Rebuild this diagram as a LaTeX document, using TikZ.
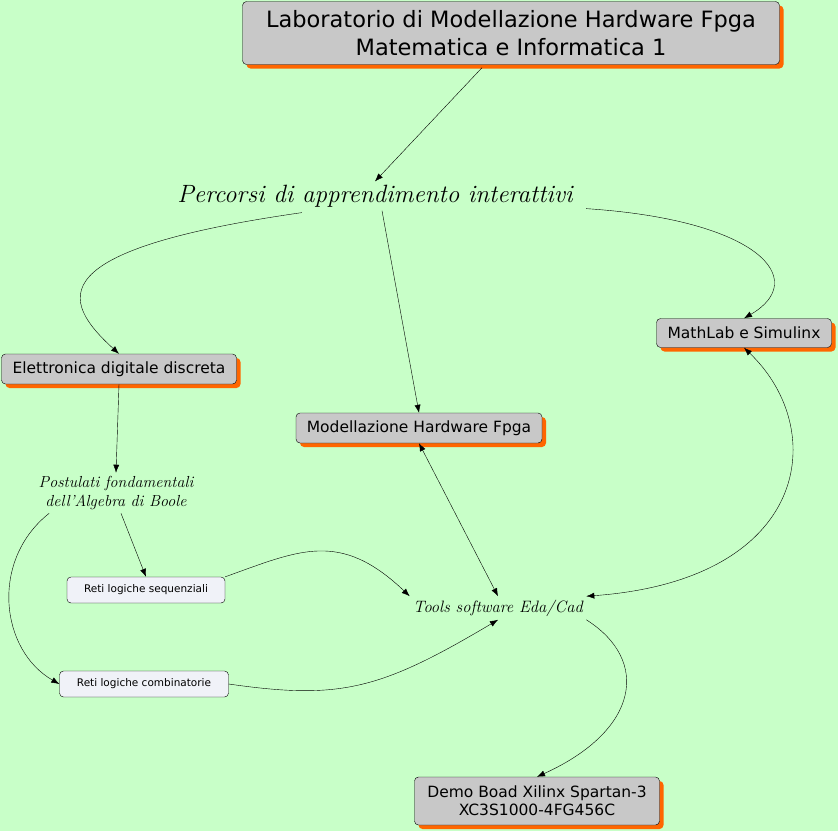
\documentclass[tikz,border=0pt]{standalone}
\usepackage{fontspec}
\newfontfamily\boxfont{DejaVu Sans}
\usetikzlibrary{arrows.meta, shadows}
\definecolor{bgreen}{RGB}{200,255,200}
\definecolor{boxgray}{RGB}{200,200,200}
\definecolor{shadeor}{RGB}{255,102,0}
\definecolor{paleb}{RGB}{240,242,248}
\tikzset{
  bigbox/.style = {draw, rounded corners=4pt, fill=boxgray, font=\boxfont,
    drop shadow={shadow xshift=4pt, shadow yshift=-4pt, fill=shadeor, opacity=1},
    align=center, inner sep=4pt},
  smallbox/.style = {draw, rounded corners=4pt, fill=paleb, font=\boxfont\fontsize{10.5}{12}\selectfont,
    inner sep=5pt},
  topic/.style = {font=\itshape, align=center},
  link/.style = {-{Latex[length=8pt,width=6pt]}},
}
\begin{document}
\begin{tikzpicture}[x=1pt, y=-1pt]
\useasboundingbox[fill=bgreen] (0,0) rectangle (838,831);
% boxes
\node[bigbox, minimum width=537pt, minimum height=63pt, font=\boxfont\fontsize{22.5}{28}\selectfont] (lab) at (511,33)
  {Laboratorio di Modellazione Hardware Fpga\\Matematica e Informatica 1};
\node[topic, font=\itshape\fontsize{25}{30}\selectfont] (perc) at (375,196) {Percorsi di apprendimento interattivi};
\node[bigbox, minimum width=235pt, minimum height=30pt, font=\boxfont\fontsize{15.5}{18}\selectfont] (elet) at (119,369) {Elettronica digitale discreta};
\node[bigbox, minimum width=175pt, minimum height=29pt, font=\boxfont\fontsize{15.5}{18}\selectfont] (math) at (744,333) {MathLab e Simulinx};
\node[bigbox, minimum width=246pt, minimum height=30pt, font=\boxfont\fontsize{15.5}{18}\selectfont] (mod) at (419,428) {Modellazione Hardware Fpga};
\node[topic, font=\itshape\fontsize{16}{19}\selectfont] (post) at (116,493) {Postulati fondamentali\\ dell'Algebra di Boole};
\node[smallbox, minimum width=158pt, minimum height=26pt] (seq) at (146,590) {Reti logiche sequenziali};
\node[smallbox, minimum width=169pt, minimum height=26pt] (comb) at (144,684) {Reti logiche combinatorie};
\node[topic, font=\itshape\fontsize{16.5}{20}\selectfont] (tools) at (498,608) {Tools software Eda/Cad};
\node[bigbox, minimum width=245pt, minimum height=48pt, font=\boxfont\fontsize{15.5}{18}\selectfont] (demo) at (537,801)
  {Demo Boad Xilinx Spartan-3\\XC3S1000-4FG456C};
% connectors
\draw[link] (lab.south) ++(-29,3) coordinate (l0) (l0) -- (perc.north);
\draw[link] (perc.south west) ++(128,2) coordinate (p0) (p0) .. controls (40,250) and (60,300) .. (elet.north);
\draw[link] (perc.south) ++(7,0) coordinate (p1) (p1) -- (mod.north);
\draw[link] (perc.south east) ++(10,-2) coordinate (p2) (p2) .. controls (760,220) and (810,280) .. (math.north);
\draw[link] (elet.south) -- (post.north);
\draw[link] (post.south) ++(5,0) coordinate (q0) (q0) -- (seq.north);
\draw[link] (post.south west) ++(14,0) coordinate (q1) (q1) .. controls (-10,560) and (0,650) .. (comb.west);
\draw[link] (seq.north east) .. controls (300,550) and (340,530) .. (tools.north west);
\draw[link] (comb.east) .. controls (340,700) and (380,690) .. (tools.south);
\draw[link, {Latex[length=8pt,width=6pt]}-{Latex[length=8pt,width=6pt]}] (mod.south) -- (tools.north);
\draw[link, {Latex[length=8pt,width=6pt]}-{Latex[length=8pt,width=6pt]}] (math.south) .. controls (830,430) and (810,580) .. (tools.north east);
\draw[link] (tools.south east) .. controls (650,660) and (640,730) .. (demo.north);
\end{tikzpicture}
\end{document}
